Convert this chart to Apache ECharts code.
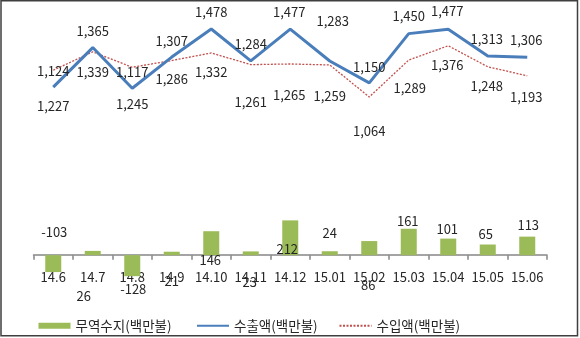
<!DOCTYPE html>
<html>
<head>
<meta charset="utf-8">
<script src="https://cdn.jsdelivr.net/npm/echarts@6/dist/echarts.min.js"></script>
<style>
  html, body { margin: 0; padding: 0; background: #fff; }
  #chart { width: 580px; height: 338px; }
</style>
</head>
<body>
<div id="chart"></div>
<script>
// Monthly trade figures (million USD)
const months = ['14.6', '14.7', '14.8', '14.9', '14.10', '14.11', '14.12',
                '15.01', '15.02', '15.03', '15.04', '15.05', '15.06'];
const tradeBalance = [-103, 26, -128, 21, 146, 23, 212, 24, 86, 161, 101, 65, 113];
const exportValues = [1124, 1365, 1117, 1307, 1478, 1284, 1477, 1283, 1150, 1450, 1477, 1313, 1306];
const importValues = [1227, 1339, 1245, 1286, 1332, 1261, 1265, 1259, 1064, 1289, 1376, 1248, 1193];
const seriesNames = ['무역수지(백만불)', '수출액(백만불)', '수입액(백만불)'];

// Label nudges in pixels, measured from each mark's centre
const balanceLabelShift = [[1, -32], [-9, 43], [1, 23], [0, 28], [-1, 17], [-1, 29], [-3, 11],
                           [0, -20], [-1, 37], [-1, -21], [-1, -18], [-2, -16], [1, -21]];
const exportLabelShift = [[0, -16], [0, -17], [0, -16], [0, -16], [0, -17], [0, -17], [-1, -17],
                          [3, -40], [0, -16], [0, -18], [-1, -18], [-1, -17], [-1, -17]];
const importLabelShift = [[0, 36], [0, 20], [0, 37], [0, 19], [0, 19], [0, 37], [-1, 31],
                          [0, 31], [0, 34], [1, 28], [-1, 19], [-1, 19], [-1, 21]];

const FONT = '"Noto Sans CJK KR", "Noto Sans", sans-serif';
const TEXT = '#262626';
const AXIS_GREY = '#868686';

const fmt = p => Number(p.value).toLocaleString('en-US');

function withShift(values, shifts) {
  return values.map((v, i) => ({ value: v, label: { offset: shifts[i] } }));
}

const labelBase = {
  show: true,
  position: 'inside',
  color: TEXT,
  fontSize: 13,
  fontFamily: FONT,
  formatter: fmt
};

const chart = echarts.init(document.getElementById('chart'), null, { renderer: 'canvas' });

function legendAt(left, name, extra) {
  return Object.assign({
    left: left,
    top: 319,
    padding: 0,
    orient: 'horizontal',
    data: [name],
    itemWidth: 32,
    itemHeight: 6,
    selectedMode: false,
    textStyle: {
      color: TEXT,
      fontSize: 13.5,
      fontFamily: FONT,
      padding: [16, 0, 0, 0]
    }
  }, extra || {});
}

chart.setOption({
  animation: false,
  backgroundColor: '#ffffff',
  graphic: [{
    type: 'rect',
    silent: true,
    shape: { x: 1, y: 0.75, width: 576.5, height: 335 },
    style: { fill: 'none', stroke: '#3f3f3f', lineWidth: 1.5 }
  }],
  legend: [
    legendAt(38.5, seriesNames[0], { icon: 'rect' }),
    legendAt(196, seriesNames[1], { itemStyle: { opacity: 0 } }),
    legendAt(338.5, seriesNames[2], { itemStyle: { opacity: 0 } })
  ],
  grid: {
    left: 33.5,
    right: 33,
    top: 9,
    height: 279,
    containLabel: false,
    outerBoundsMode: 'none'
  },
  xAxis: [
    {
      // baseline through zero of the balance axis, with boundary ticks
      type: 'category',
      data: months,
      boundaryGap: true,
      axisLine: {
        show: true,
        onZero: true,
        onZeroAxisIndex: 0,
        lineStyle: { color: AXIS_GREY, width: 1.5 }
      },
      axisTick: {
        show: true,
        length: 4.5,
        lineStyle: { color: AXIS_GREY, width: 1.5 }
      },
      axisLabel: { show: false },
      splitLine: { show: false }
    },
    {
      // month labels just under the baseline
      type: 'category',
      data: months,
      boundaryGap: true,
      position: 'bottom',
      offset: -33,
      axisLine: { show: false, onZero: false },
      axisTick: { show: false },
      axisLabel: {
        interval: 0,
        margin: 16,
        color: TEXT,
        fontSize: 13,
        fontFamily: FONT
      },
      splitLine: { show: false }
    }
  ],
  yAxis: [
    { type: 'value', show: false, min: -200, max: 1500, splitLine: { show: false } },
    { type: 'value', show: false, min: -100, max: 1600, splitLine: { show: false } }
  ],
  series: [
    {
      name: seriesNames[0],
      type: 'bar',
      yAxisIndex: 0,
      barWidth: 16,
      itemStyle: { color: '#9BBB59' },
      label: Object.assign({}, labelBase),
      data: withShift(tradeBalance, balanceLabelShift),
      z: 2
    },
    {
      name: seriesNames[1],
      type: 'line',
      yAxisIndex: 1,
      color: '#4A7EBB',
      symbol: 'circle',
      symbolSize: 0,
      lineStyle: { color: '#4A7EBB', width: 3 },
      itemStyle: { color: '#4A7EBB' },
      label: Object.assign({}, labelBase),
      data: withShift(exportValues, exportLabelShift),
      z: 4
    },
    {
      name: seriesNames[2],
      type: 'line',
      yAxisIndex: 1,
      color: '#C0504D',
      symbol: 'circle',
      symbolSize: 0,
      lineStyle: { color: '#C0504D', width: 1.3, type: [2, 1.5] },
      itemStyle: { color: '#C0504D' },
      label: Object.assign({}, labelBase),
      data: withShift(importValues, importLabelShift),
      z: 3
    }
  ]
});
</script>
</body>
</html>
